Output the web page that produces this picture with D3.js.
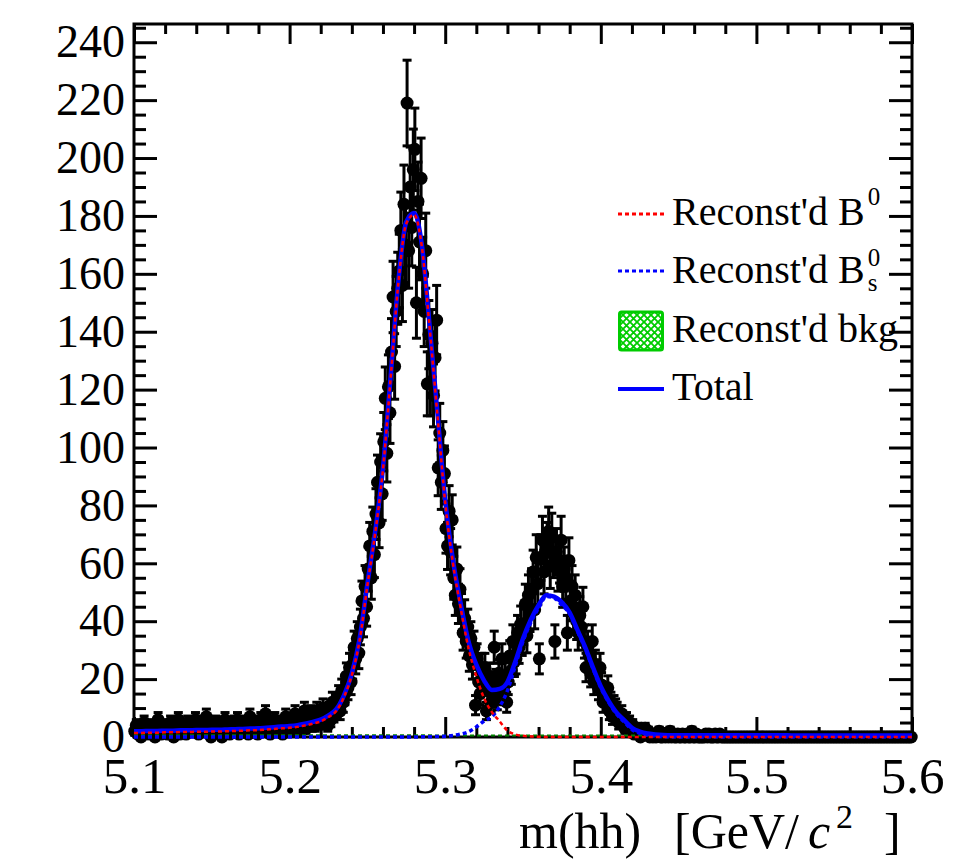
<!DOCTYPE html>
<html lang="en">
<head>
<meta charset="utf-8">
<title>m(hh) fit</title>
<script src="https://cdn.jsdelivr.net/npm/d3@7"></script>
<style>
    body { margin: 0; background: white; }
    .axis path { display: none; }
    .axis line { stroke: black; stroke-width: 3; }
    .fit { fill: none; }
</style>
</head>
<body>
<div id="chart"></div>
<script>

var serif = "'Liberation Serif', 'Times New Roman', Times, serif";

// histogram: 500 bins of 1 MeV from 5.1 to 5.6 (five bins per block)
var binLow = 5.1, binWidth = 0.001;
var counts = [
    // 5.100 - 5.195
    2,4,1,3,0, 2,5,1,3,2, 1,4,2,0,3, 6,2,1,3,2, 4,1,2,5,3, 0,2,3,6,1, 3,2,4,1,5, 3,2,4,2,6,
    3,1,4,5,2, 3,7,2,4,0, 1,3,5,2,4, 2,0,3,6,2, 4,1,3,2,5, 3,6,1,2,4, 2,5,3,1,7, 4,2,3,5,1,
    3,6,2,4,8, 2,4,1,5,3, 6,3,4,2,5, 1,4,7,3,5,
    // 5.200 - 5.245
    5,2,4,8,3, 6,4,2,5,9, 3,6,5,8,4, 7,4,9,5,6, 5,10,6,8,4, 9,6,12,8,11, 10,14,9,16,12,
    15,21,17,24,19, 25,31,27,34,29, 38,47,41,52,45,
    // 5.250 - 5.295
    58,66,55,71,63, 77,88,74,95,84, 102,117,98,121,112, 133,152,128,147,155, 161,175,156,184,170,
    219,168,190,176,196, 203,150,185,171,193, 160,147,168,122,139, 122,136,118,131,144, 93,105,88,99,91,
    // 5.300 - 5.345
    72,66,78,64,75, 55,49,58,46,51, 43,36,41,33,38, 28,34,25,31,11, 27,19,15,24,20,
    24,9,16,21,12, 14,31,19,13,22, 17,27,15,21,12, 19,28,23,33,26, 27,36,31,39,34,
    // 5.350 - 5.395
    38,46,35,49,43, 51,57,44,62,53, 27,62,68,57,64, 66,71,59,69,63, 33,64,58,61,68,
    52,58,55,36,61, 47,52,43,49,40, 36,42,38,45,33, 24,31,28,22,33, 19,25,22,17,24,
    // 5.400 - 5.475
    18,12,15,13,17, 9,12,7,11,10, 9,5,6,8,5, 3,6,4,5,2, 4,1,2,3,2, 0,1,2,3,1, 2,0,1,0,1,
    0,1,2,0,0, 1,0,1,0,2, 0,1,0,0,1, 0,0,1,0,0, 1,0,0,2,0, 0,1,0,0,0, 0,0,1,0,1,
    0,0,0,1,0, 0,1,0,0,0,
    // 5.480 - 5.595
    0,0,0,0,0, 0,0,0,0,0, 0,0,0,0,0, 0,0,0,0,0, 0,0,0,0,0, 0,0,0,0,0, 0,0,0,0,0, 0,0,0,0,0,
    0,0,0,0,0, 0,0,0,0,0, 0,0,0,0,0, 0,0,0,0,0, 0,0,0,0,0, 0,0,0,0,0, 0,0,0,0,0, 0,0,0,0,0,
    0,0,0,0,0, 0,0,0,0,0, 0,0,0,0,0, 0,0,0,0,0, 0,0,0,0,0, 0,0,0,0,0, 0,0,0,0,0, 0,0,0,0,0
];

// fit curves sampled every 5 MeV from 5.100 to 5.600
var curveMass = d3.range(101).map(function(i) { return 5.1 + i * 0.005; });
var totalFit = [
    2.0,2.0,2.1,2.1,2.2,2.2,2.3,2.3,2.4,2.4,
    2.5,2.5,2.6,2.7,2.8,2.9,3.0,3.2,3.4,3.6,
    3.8,4.1,4.6,5.2,6.0,7.5,9.6,14.5,22,34,
    53,71,93,125,158,178,181,170,142,112,
    82,61,46,33,25,19.5,16.2,16.6,19,26,
    34,40.5,45.5,49,48.5,46.5,43,37,31,24,
    17.5,12.5,8.5,5.8,3.2,1.9,1.2,0.9,0.7,0.6,
    0.6,0.6,0.6,0.6,0.6,0.6,0.6,0.6,0.6,0.6,
    0.6,0.6,0.6,0.6,0.6,0.5,0.5,0.5,0.5,0.5,
    0.5,0.5,0.5,0.5,0.5,0.5,0.5,0.5,0.5,0.5,
    0.5
];
var b0Fit = [
    1.4,1.4,1.5,1.5,1.6,1.6,1.7,1.7,1.8,1.8,
    1.9,1.9,2.0,2.1,2.2,2.3,2.4,2.6,2.8,3.0,
    3.2,3.5,4.0,4.6,5.4,6.9,9.0,13.9,21.4,33.4,
    52.4,70.4,92.4,124.4,157.4,177.4,180.4,169.3,141.3,111.2,
    81,60,44.4,30.6,20.9,13.4,8.6,5.4,2.2,0.9,
    0.4,0.2,0.1,0,0,0,0,0,0,0,
    0,0,0,0,0,0,0,0,0,0,
    0,0,0,0,0,0,0,0,0,0,
    0,0,0,0,0,0,0,0,0,0,
    0,0,0,0,0,0,0,0,0,0,
    0
];
var bsFit = [
    0,0,0,0,0,0,0,0,0,0,
    0,0,0,0,0,0,0,0,0,0,
    0,0,0,0,0,0,0,0,0,0,
    0,0,0,0,0,0,0,0.05,0.1,0.15,
    0.25,0.5,1.0,1.8,3.5,5.5,7.0,10.5,16,24.5,
    33,39.5,44.5,48.5,48,45.5,42.5,36.5,30.5,23.5,
    17,12,8,5.2,2.6,1.3,0.6,0.3,0.1,0,
    0,0,0,0,0,0,0,0,0,0,
    0,0,0,0,0,0,0,0,0,0,
    0,0,0,0,0,0,0,0,0,0,
    0
];
var bkgMass = [5.1, 5.35, 5.6];
var bkgFit = [0.6, 0.55, 0.5];

var yMajor = [0, 20, 40, 60, 80, 100, 120, 140, 160, 180, 200, 220, 240];
var xMajor = [5.1, 5.2, 5.3, 5.4, 5.5, 5.6];

var margin = {top: 24, right: 68, bottom: 130, left: 134},
    width = 980 - margin.left - margin.right,
    height = 867 - margin.top - margin.bottom;

var root = d3.select("#chart").append("svg")
    .attr("width", 980)
    .attr("height", 867);

var svg = root.append("g")
    .attr("transform", "translate(" + margin.left + "," + margin.top + ")");

var x = d3.scaleLinear().domain([5.1, 5.6]).range([0, width]);
var y = d3.scaleLinear().domain([0, 246.3]).range([height, 0]);

var yMinor = d3.range(0, 246, 5).filter(function(v) { return v % 20 !== 0; });
var xMinor = d3.range(26).map(function(i) { return 5.1 + i * 0.02; })
    .filter(function(v, i) { return i % 5 !== 0; });

// left axis
svg.append("g").attr("class", "axis")
    .call(d3.axisLeft(y).tickValues(yMajor).tickSize(-23).tickPadding(9).tickFormat(d3.format("d")))
    .selectAll("text").attr("font-family", serif).style("font-size", "46px").style("fill", "black");
svg.append("g").attr("class", "axis")
    .call(d3.axisLeft(y).tickValues(yMinor).tickSize(-12).tickFormat(""));
// right axis
svg.append("g").attr("class", "axis").attr("transform", "translate(" + width + ",0)")
    .call(d3.axisRight(y).tickValues(yMajor).tickSize(-23).tickFormat(""));
svg.append("g").attr("class", "axis").attr("transform", "translate(" + width + ",0)")
    .call(d3.axisRight(y).tickValues(yMinor).tickSize(-12).tickFormat(""));
// bottom axis
svg.append("g").attr("class", "axis").attr("transform", "translate(0," + height + ")")
    .call(d3.axisBottom(x).tickValues(xMajor).tickSize(-20).tickPadding(20).tickFormat(d3.format(".1f")))
    .selectAll("text").attr("font-family", serif).style("font-size", "51px").style("fill", "black");
svg.append("g").attr("class", "axis").attr("transform", "translate(0," + height + ")")
    .call(d3.axisBottom(x).tickValues(xMinor).tickSize(-10).tickFormat(""));
// top axis
svg.append("g").attr("class", "axis")
    .call(d3.axisTop(x).tickValues(xMajor).tickSize(-20).tickFormat(""));
svg.append("g").attr("class", "axis")
    .call(d3.axisTop(x).tickValues(xMinor).tickSize(-10).tickFormat(""));

// frame
svg.append("rect")
    .attr("width", width)
    .attr("height", height)
    .style("fill", "none")
    .style("stroke", "black")
    .style("stroke-width", 3);

// data points with sqrt(N) error bars
var bins = counts.map(function(n, i) {
    return {m: binLow + (i + 0.5) * binWidth, n: n};
});

var errs = svg.append("g").selectAll("g")
    .data(bins.filter(function(d) { return d.n > 0; }))
    .enter().append("g")
    .style("stroke", "black")
    .style("stroke-width", 3);

errs.append("line")
    .attr("x1", function(d) { return x(d.m); })
    .attr("x2", function(d) { return x(d.m); })
    .attr("y1", function(d) { return y(d.n - Math.sqrt(d.n)); })
    .attr("y2", function(d) { return y(d.n + Math.sqrt(d.n)); });
errs.append("line")
    .attr("x1", function(d) { return x(d.m) - 4.5; })
    .attr("x2", function(d) { return x(d.m) + 4.5; })
    .attr("y1", function(d) { return y(d.n + Math.sqrt(d.n)); })
    .attr("y2", function(d) { return y(d.n + Math.sqrt(d.n)); });
errs.append("line")
    .attr("x1", function(d) { return x(d.m) - 4.5; })
    .attr("x2", function(d) { return x(d.m) + 4.5; })
    .attr("y1", function(d) { return y(d.n - Math.sqrt(d.n)); })
    .attr("y2", function(d) { return y(d.n - Math.sqrt(d.n)); });

svg.append("g").selectAll("circle")
    .data(bins)
    .enter().append("circle")
    .attr("cx", function(d) { return x(d.m); })
    .attr("cy", function(d) { return y(d.n); })
    .attr("r", 6.5)
    .style("fill", "black");

// fit curves
svg.append("clipPath").attr("id", "frameclip")
    .append("rect").attr("x", 0).attr("y", 0).attr("width", width).attr("height", height + 4);

var fitLine = d3.line()
    .x(function(d) { return x(d[0]); })
    .y(function(d) { return y(d[1]); })
    .curve(d3.curveMonotoneX);

function pairs(vals, masses) {
    return vals.map(function(v, i) { return [masses[i], v]; });
}

var curves = svg.append("g").attr("clip-path", "url(#frameclip)");

curves.append("path").attr("class", "fit")
    .attr("d", fitLine(pairs(bkgFit, bkgMass)))
    .style("stroke", "#008000").style("stroke-width", 2).style("stroke-dasharray", "4,3");

curves.append("path").attr("class", "fit")
    .attr("d", fitLine(pairs(totalFit, curveMass)))
    .style("stroke", "#0000ff").style("stroke-width", 4.5);

curves.append("path").attr("class", "fit")
    .attr("d", fitLine(pairs(bsFit, curveMass)))
    .style("stroke", "#0000ff").style("stroke-width", 3.5).style("stroke-dasharray", "4,3");

curves.append("path").attr("class", "fit")
    .attr("d", fitLine(pairs(b0Fit, curveMass)))
    .style("stroke", "#ff0000").style("stroke-width", 2.5).style("stroke-dasharray", "4,3");

// axis title, pieces placed with the wide spacing of the original
var title = root.append("text")
    .attr("y", 848)
    .attr("font-family", serif)
    .style("font-size", "50px");
title.append("tspan").attr("x", 519).text("m(hh)");
title.append("tspan").attr("x", 674).text("[GeV/");
title.append("tspan").attr("x", 808).style("font-style", "italic").text("c");
title.append("tspan").attr("x", 836).attr("dy", -20).style("font-size", "34px").text("2");
title.append("tspan").attr("x", 884).attr("dy", 20).text("]");

// legend
var legend = root.append("g").attr("font-family", serif);

var defs = root.append("defs");
var hatch = defs.append("pattern")
    .attr("id", "hatch")
    .attr("patternUnits", "userSpaceOnUse")
    .attr("width", 7).attr("height", 7);
hatch.append("rect").attr("width", 7).attr("height", 7).style("fill", "white");
hatch.append("path").attr("d", "M0,0 L7,7 M7,0 L0,7")
    .style("stroke", "#00cc00").style("stroke-width", 1.8);

var legX = 618, legTextX = 672, legFont = 40;

function legendLabel(yBase, main) {
    var t = legend.append("text")
        .attr("x", legTextX).attr("y", yBase)
        .style("font-size", legFont + "px")
        .text(main);
    return t.node().getComputedTextLength();
}

// B0
legend.append("line").attr("x1", legX).attr("x2", legX + 46).attr("y1", 214).attr("y2", 214)
    .style("stroke", "#ff0000").style("stroke-width", 3).style("stroke-dasharray", "4,3");
var w1 = legendLabel(225, "Reconst'd B");
legend.append("text").attr("x", legTextX + w1 + 3).attr("y", 205)
    .style("font-size", "25px").text("0");

// Bs
legend.append("line").attr("x1", legX).attr("x2", legX + 46).attr("y1", 271).attr("y2", 271)
    .style("stroke", "#0000ff").style("stroke-width", 3).style("stroke-dasharray", "4,3");
var w2 = legendLabel(283, "Reconst'd B");
legend.append("text").attr("x", legTextX + w2 + 3).attr("y", 266)
    .style("font-size", "25px").text("0");
legend.append("text").attr("x", legTextX + w2 + 3).attr("y", 291)
    .style("font-size", "25px").text("s");

// bkg
legend.append("rect").attr("x", legX + 1.5).attr("y", 312).attr("width", 43).attr("height", 38)
    .attr("rx", 2)
    .style("fill", "url(#hatch)").style("stroke", "#00cc00").style("stroke-width", 3);
legendLabel(342, "Reconst'd bkg");

// total
legend.append("line").attr("x1", legX).attr("x2", legX + 46).attr("y1", 389).attr("y2", 389)
    .style("stroke", "#0000ff").style("stroke-width", 4);
legendLabel(400, "Total");

</script>
</body>
</html>
